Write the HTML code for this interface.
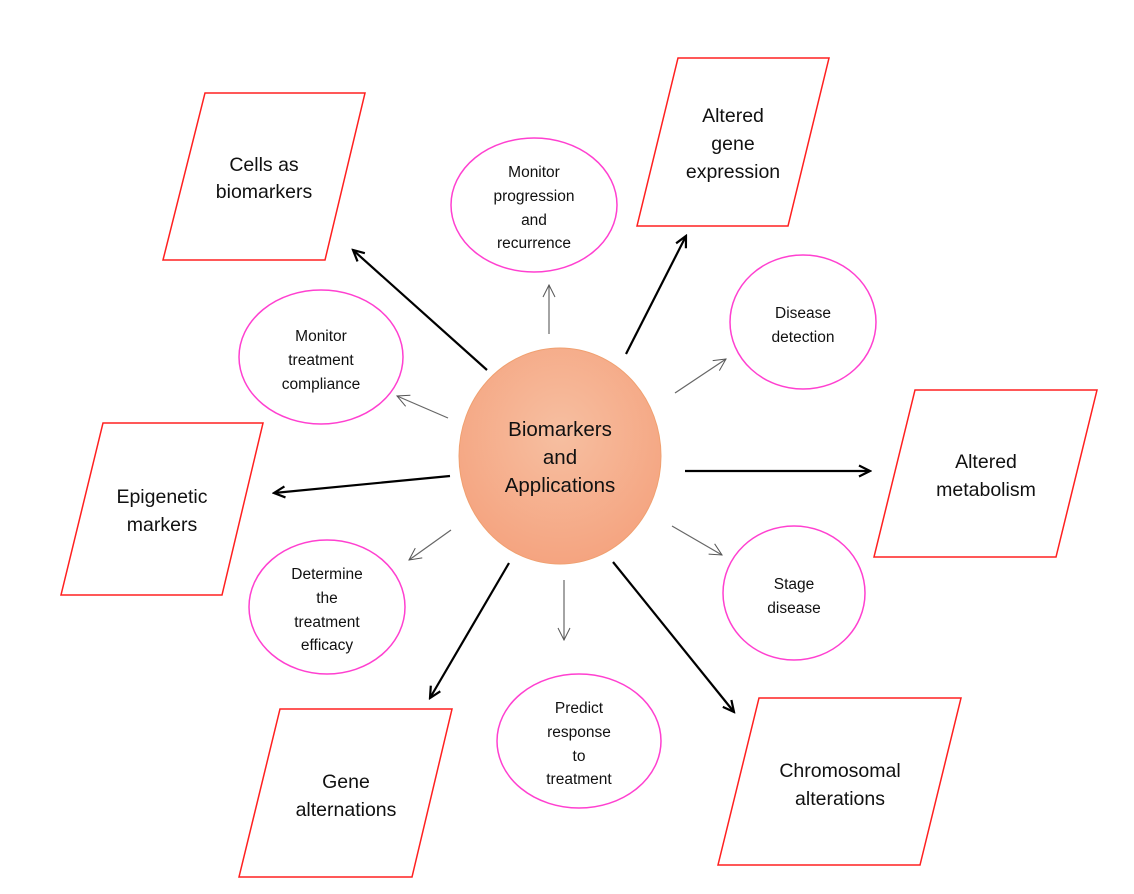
<!DOCTYPE html>
<html><head><meta charset="utf-8"><style>
html,body{margin:0;padding:0;background:#fff;}
svg{display:block;}
text{font-family:"Liberation Sans",sans-serif;fill:#111;text-anchor:middle;}
.p{fill:#fff;stroke:#ff2020;stroke-width:1.5;}
.e{fill:#fff;stroke:#ff40d0;stroke-width:1.5;}
.big{font-size:19.5px;}
.sm{font-size:15.5px;}
</style></head><body>
<svg width="1134" height="894" viewBox="0 0 1134 894">
<defs>
<radialGradient id="g" cx="50%" cy="40%" r="60%">
<stop offset="0" stop-color="#f6bfa1"/><stop offset="1" stop-color="#f5a480"/></radialGradient>
<marker id="ah" markerWidth="14" markerHeight="14" refX="12" refY="7" orient="auto" markerUnits="userSpaceOnUse">
<path d="M1,1.5 L12,7 L1,12.5" fill="none" stroke="#000" stroke-width="2.2"/></marker>
<marker id="at" markerWidth="14" markerHeight="14" refX="13" refY="7" orient="auto" markerUnits="userSpaceOnUse">
<path d="M1,1 L13,7 L1,13" fill="none" stroke="#555" stroke-width="1"/></marker>
</defs>
<polygon class="p" points="205,93 365,93 325,260 163,260"/>
<text class="big" x="264" y="171">Cells as</text><text class="big" x="264" y="198">biomarkers</text>
<polygon class="p" points="678,58 829,58 788,226 637,226"/>
<text class="big" x="733" y="122">Altered</text><text class="big" x="733" y="150">gene</text><text class="big" x="733" y="178">expression</text>
<polygon class="p" points="915,390 1097,390 1056,557 874,557"/>
<text class="big" x="986" y="468">Altered</text><text class="big" x="986" y="496">metabolism</text>
<polygon class="p" points="103,423 263,423 222,595 61,595"/>
<text class="big" x="162" y="503">Epigenetic</text><text class="big" x="162" y="531">markers</text>
<polygon class="p" points="280,709 452,709 412,877 239,877"/>
<text class="big" x="346" y="788">Gene</text><text class="big" x="346" y="816">alternations</text>
<polygon class="p" points="759,698 961,698 920,865 718,865"/>
<text class="big" x="840" y="777">Chromosomal</text><text class="big" x="840" y="805">alterations</text>

<ellipse class="e" cx="534" cy="205" rx="83" ry="67"/>
<text class="sm" x="534" y="177">Monitor</text><text class="sm" x="534" y="201">progression</text><text class="sm" x="534" y="225">and</text><text class="sm" x="534" y="248">recurrence</text>
<ellipse class="e" cx="803" cy="322" rx="73" ry="67"/>
<text class="sm" x="803" y="318">Disease</text><text class="sm" x="803" y="342">detection</text>
<ellipse class="e" cx="321" cy="357" rx="82" ry="67"/>
<text class="sm" x="321" y="341">Monitor</text><text class="sm" x="321" y="365">treatment</text><text class="sm" x="321" y="389">compliance</text>
<ellipse class="e" cx="794" cy="593" rx="71" ry="67"/>
<text class="sm" x="794" y="589">Stage</text><text class="sm" x="794" y="613">disease</text>
<ellipse class="e" cx="327" cy="607" rx="78" ry="67"/>
<text class="sm" x="327" y="579">Determine</text><text class="sm" x="327" y="603">the</text><text class="sm" x="327" y="627">treatment</text><text class="sm" x="327" y="650">efficacy</text>
<ellipse class="e" cx="579" cy="741" rx="82" ry="67"/>
<text class="sm" x="579" y="713">Predict</text><text class="sm" x="579" y="737">response</text><text class="sm" x="579" y="761">to</text><text class="sm" x="579" y="784">treatment</text>

<ellipse cx="560" cy="456" rx="101" ry="108" fill="url(#g)" stroke="#f0a070" stroke-width="1"/>
<text x="560" y="436" style="font-size:20.5px">Biomarkers</text>
<text x="560" y="464" style="font-size:20.5px">and</text>
<text x="560" y="492" style="font-size:20.5px">Applications</text>

<g stroke="#000" stroke-width="2.2" marker-end="url(#ah)">
<line x1="487" y1="370" x2="353" y2="250"/>
<line x1="626" y1="354" x2="686" y2="236"/>
<line x1="450" y1="476" x2="274" y2="493"/>
<line x1="685" y1="471" x2="870" y2="471"/>
<line x1="509" y1="563" x2="430" y2="698"/>
<line x1="613" y1="562" x2="734" y2="712"/>
</g>
<g stroke="#666" stroke-width="1.2" marker-end="url(#at)">
<line x1="549" y1="334" x2="549" y2="285"/>
<line x1="675" y1="393" x2="726" y2="359"/>
<line x1="448" y1="418" x2="397" y2="396"/>
<line x1="451" y1="530" x2="409" y2="560"/>
<line x1="564" y1="580" x2="564" y2="640"/>
<line x1="672" y1="526" x2="722" y2="555"/>
</g>
</svg>
</body></html>
